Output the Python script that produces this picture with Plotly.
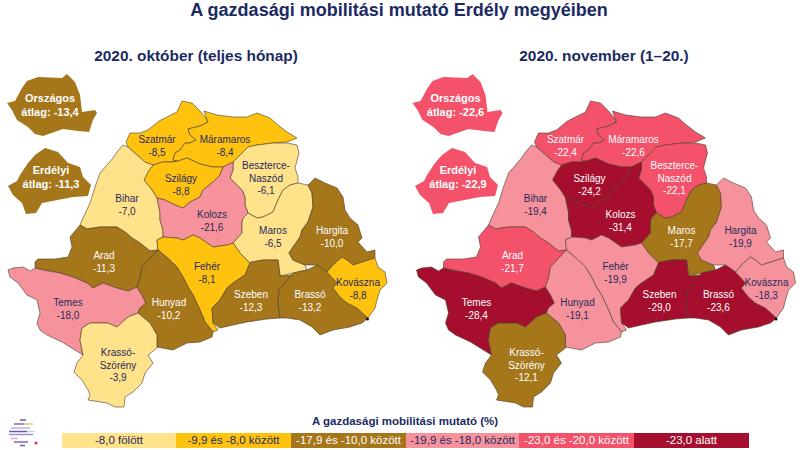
import plotly.graph_objects as go

# megyek es ertekek
counties = ["Szatmár", "Máramaros", "Beszterce-<br>Naszód", "Szilágy", "Bihar", "Kolozs", "Maros", "Hargita",
            "Arad", "Fehér", "Temes", "Hunyad", "Szeben", "Brassó", "Kovászna", "Krassó-<br>Szörény"]
oct_values = [-8.5, -8.4, -6.1, -8.8, -7.0, -21.6, -6.5, -10.0, -11.3, -8.1, -18.0, -10.2, -12.3, -13.2, -8.8, -3.9]
nov_values = [-22.4, -22.6, -22.1, -24.2, -19.4, -31.4, -17.7, -19.9, -21.7, -19.9, -28.4, -19.1, -29.0, -23.6, -18.3, -12.1]

avg_names = ["Országos", "Erdélyi"]
oct_avg = [-13.4, -11.3]
nov_avg = [-22.6, -22.9]

class_labels = ["-8,0 fölött", "-9,9 és -8,0 között", "-17,9 és -10,0 között",
                "-19,9 és -18,0 között", "-23,0 és -20,0 között", "-23,0 alatt"]
class_limits = [-8.0, -9.95, -17.95, -19.95, -23.0]
class_colors = ["#ffe28a", "#ffc20e", "#a6761b", "#f6929b", "#f4516a", "#a50e2d"]
class_text = ["#1f2a5c", "#1f2a5c", "#ffffff", "#1f2a5c", "#ffffff", "#ffffff"]

# kepen a Kolozs -21,6 a rozsaszin kategoriaban van
oct_override = {"Kolozs": 3}

# korvonalak (bal oldali terkep pixelei)
outlines = {
    "Szatmár": [(126,142),(130,133),(140,133),(148,130),(159,121),(170,115),(177,112),(182,101),(192,103),(200,111),(205,117),(208,122),(200,126),(188,129),(190,135),(196,140),(190,143),(185,143),(180,150),(175,153),(173,160),(178,161),(173,162),(163,162),(153,165),(145,162),(137,155),(128,147)],
    "Máramaros": [(204,111),(217,115),(233,117),(247,117),(257,113),(270,118),(278,125),(287,132),(297,138),(287,142),(273,143),(257,145),(248,147),(240,155),(233,162),(223,167),(213,167),(200,164),(187,158),(178,161),(173,160),(175,153),(180,150),(185,143),(190,143),(196,140),(190,135),(188,129),(200,126),(208,122)],
    "Beszterce-<br>Naszód": [(257,145),(273,143),(287,143),(297,145),(299,153),(297,160),(295,168),(298,177),(298,183),(290,185),(283,190),(278,200),(273,212),(263,217),(257,218),(248,213),(245,205),(245,197),(242,190),(237,185),(230,178),(233,170),(233,162),(240,155),(248,147)],
    "Szilágy": [(144,180),(148,172),(153,165),(163,162),(173,162),(178,161),(187,158),(200,164),(213,167),(223,167),(220,175),(213,182),(203,190),(200,197),(190,202),(183,208),(175,205),(165,200),(157,198),(152,190)],
    "Bihar": [(123,145),(117,152),(113,158),(107,165),(100,173),(95,187),(90,203),(83,218),(80,225),(87,229),(100,227),(117,227),(125,232),(132,238),(140,243),(150,251),(158,250),(157,240),(163,237),(163,230),(160,220),(160,212),(157,198),(152,190),(144,180),(148,172),(153,165),(145,162),(137,155),(128,147)],
    "Kolozs": [(157,198),(165,200),(175,205),(183,208),(190,202),(200,197),(203,190),(213,182),(220,175),(223,167),(233,162),(233,170),(230,178),(237,185),(242,190),(245,197),(245,205),(248,213),(243,218),(242,223),(242,233),(233,243),(227,245),(213,247),(200,238),(193,235),(183,240),(177,238),(163,237),(163,230),(160,220),(160,212)],
    "Maros": [(248,213),(257,218),(263,217),(273,212),(278,200),(283,190),(290,185),(298,183),(308,185),(312,193),(313,207),(308,222),(302,230),(300,237),(293,247),(289,253),(293,260),(305,265),(307,270),(293,273),(280,276),(278,260),(263,260),(252,262),(250,263),(240,253),(233,243),(242,233),(242,223),(243,218)],
    "Hargita": [(308,185),(315,178),(325,183),(337,188),(343,197),(345,210),(350,218),(358,225),(362,238),(358,242),(367,252),(375,250),(375,258),(363,262),(353,265),(347,260),(342,257),(335,263),(327,272),(317,265),(305,265),(293,260),(289,253),(293,247),(300,237),(302,230),(308,222),(313,207),(312,193)],
    "Arad": [(35,262),(38,259),(55,259),(68,257),(72,247),(70,237),(80,225),(87,229),(100,227),(117,227),(125,232),(132,238),(140,243),(150,251),(158,250),(147,262),(142,267),(140,278),(137,287),(128,291),(117,288),(103,283),(93,288),(87,283),(73,277),(60,273),(43,270),(35,268)],
    "Fehér": [(157,240),(163,237),(177,238),(183,240),(193,235),(200,238),(213,247),(227,245),(233,243),(240,253),(250,263),(245,275),(233,283),(227,288),(220,300),(212,308),(213,323),(218,330),(213,332),(205,322),(200,310),(193,295),(188,287),(183,277),(177,267),(170,260),(163,254),(158,250)],
    "Temes": [(8,270),(13,268),(23,267),(30,271),(35,268),(43,270),(60,273),(73,277),(87,283),(93,288),(103,283),(117,288),(128,291),(137,287),(142,295),(146,303),(140,308),(138,313),(128,317),(117,327),(108,323),(90,323),(82,328),(80,340),(83,355),(72,348),(62,342),(47,335),(40,330),(37,323),(40,313),(37,300),(27,295),(18,283),(10,277)],
    "Hunyad": [(158,250),(163,254),(170,260),(177,267),(183,277),(188,287),(193,295),(200,310),(205,322),(213,332),(212,337),(200,342),(187,343),(173,350),(163,348),(157,347),(157,335),(150,323),(138,313),(140,308),(146,303),(142,295),(137,287),(140,278),(142,267),(147,262)],
    "Szeben": [(252,262),(263,260),(278,260),(280,276),(293,275),(285,283),(279,290),(278,303),(280,318),(267,319),(247,322),(233,325),(220,328),(213,323),(212,308),(220,300),(227,288),(233,283),(245,275),(250,263)],
    "Brassó": [(293,273),(307,270),(317,265),(327,272),(337,283),(333,288),(340,297),(347,303),(357,308),(363,313),(368,318),(362,323),(350,327),(333,330),(320,335),(312,327),(300,320),(287,318),(280,318),(278,303),(279,290),(285,283)],
    "Kovászna": [(342,257),(347,260),(353,265),(363,262),(375,258),(378,267),(385,272),(387,283),(380,290),(377,300),(375,308),(368,318),(363,313),(357,308),(347,303),(340,297),(333,288),(337,283),(327,272),(335,263)],
    "Krassó-<br>Szörény": [(83,355),(80,340),(82,328),(90,323),(108,323),(117,327),(128,317),(138,313),(150,323),(157,335),(157,348),(148,355),(153,363),(145,373),(142,383),(133,392),(125,397),(124,407),(115,407),(107,403),(88,400),(90,395),(88,390),(82,380),(74,372),(77,363)],
}
avg_outlines = {
    "Országos": [(7,103),(15,101),(22,88),(27,81),(38,77),(53,78),(62,78),(67,74),(75,82),(80,95),(82,112),(95,110),(97,113),(93,120),(89,132),(78,131),(63,129),(43,136),(35,134),(28,127),(17,120),(12,110)],
    "Erdélyi": [(8,186),(17,181),(20,175),(28,163),(35,155),(45,148),(58,152),(68,163),(80,167),(83,177),(91,185),(88,196),(73,197),(57,200),(42,203),(36,213),(26,214),(22,203),(13,195)],
}

# felirat helyek: elso sor
label_pos = {
    "Szatmár": (157,139), "Máramaros": (225,139), "Beszterce-<br>Naszód": (266,165), "Szilágy": (181,178),
    "Bihar": (127,198), "Kolozs": (212,214), "Maros": (273,230), "Hargita": (332,230), "Arad": (104,255),
    "Fehér": (207,266), "Temes": (68,302), "Hunyad": (169,302), "Szeben": (251,294), "Brassó": (310,294),
    "Kovászna": (358,282), "Krassó-<br>Szörény": (118,352),
}
avg_pos = {"Országos": (50,98), "Erdélyi": (51,170)}

LINE = "#4a3c28"
NAVY = "#1b2a63"
FONT = "Liberation Sans"


def color_class(v):
    for i, lim in enumerate(class_limits):
        if v >= lim:
            return i
    return len(class_limits)


def hu(v):
    return f"{v:.1f}".replace(".", ",")


def polygon(fig, points, dx, color):
    xs = [p[0] + dx for p in points] + [points[0][0] + dx]
    ys = [p[1] for p in points] + [points[0][1]]
    fig.add_trace(go.Scatter(x=xs, y=ys, mode="lines", fill="toself", fillcolor=color,
                             line=dict(color=LINE, width=0.6), hoverinfo="skip", showlegend=False))


def text_lines(fig, x, y, lines, color, size=10, bold=False, step=12.5):
    # 1.5 px: a plotly "middle" kicsit feljebb rakja a szoveget
    for i, line in enumerate(lines):
        t = f"<b>{line}</b>" if bold else line
        fig.add_trace(go.Scatter(x=[x], y=[y + 1.5 + i * step], mode="text", text=[t],
                                 textposition="middle center", textfont=dict(family=FONT, size=size, color=color),
                                 hoverinfo="skip", showlegend=False))


def draw_map(fig, values, avgs, dx, avg_dx, override=None):
    override = override or {}
    for name, v in zip(counties, values):
        c = override.get(name, color_class(v))
        polygon(fig, outlines[name], dx, class_colors[c])
    for name, v in zip(counties, values):
        c = override.get(name, color_class(v))
        x, y = label_pos[name]
        text_lines(fig, x + dx, y, name.split("<br>") + [hu(v)], class_text[c])
    fig.add_trace(go.Scatter(x=[367.5 + dx], y=[319], mode="markers", marker=dict(color="#111111", size=3),
                             hoverinfo="skip", showlegend=False))
    for (name, v), adx in zip(zip(avg_names, avgs), avg_dx):
        polygon_color = class_colors[color_class(v)]
        fig.add_trace(go.Scatter(x=[p[0] + adx for p in avg_outlines[name]], y=[p[1] for p in avg_outlines[name]],
                                 mode="lines", fill="toself", fillcolor=polygon_color, line=dict(width=0),
                                 hoverinfo="skip", showlegend=False))
        x, y = avg_pos[name]
        text_lines(fig, x + adx, y, [name, f"átlag: {hu(v)}"], "#ffffff", size=11, bold=True, step=14)


fig = go.Figure()
draw_map(fig, oct_values, oct_avg, 0, [0, 0], oct_override)
draw_map(fig, nov_values, nov_avg, 408.5, [405.5, 407])

text_lines(fig, 399, 10, ["A gazdasági mobilitási mutató Erdély megyéiben"], NAVY, size=18, bold=True)
text_lines(fig, 196, 56, ["2020. október (teljes hónap)"], NAVY, size=15.4, bold=True)
text_lines(fig, 604, 56, ["2020. november (1–20.)"], NAVY, size=15.4, bold=True)
text_lines(fig, 405, 421, ["A gazdasági mobilitási mutató (%)"], NAVY, size=11.5, bold=True)

# jelmagyarazat
edges = [62, 176, 291, 406, 519, 634, 749]
for i, label in enumerate(class_labels):
    fig.add_shape(type="rect", x0=edges[i], x1=edges[i + 1], y0=433, y1=448, fillcolor=class_colors[i], line_width=0, layer="below")
    text_lines(fig, (edges[i] + edges[i + 1]) / 2, 440, [label], class_text[i], size=11.5)

# logo
stripes = [(20, 26, 420, "#6a5aa8"), (14, 24, 424, "#7b6bb5"), (24, 33, 424, "#e9c46a"), (11, 30, 428, "#b9b3dc"),
           (9, 27, 431.5, "#6a5aa8"), (27, 35, 431.5, "#bcd8ea"), (9, 33, 434.5, "#9a8fd0"), (11, 18, 438.5, "#f4a6c0"),
           (14, 28, 442, "#7b6bb5"), (20, 25, 445.5, "#6a5aa8")]
for x0, x1, y, col in stripes:
    fig.add_shape(type="line", x0=x0, x1=x1, y0=y, y1=y, line=dict(color=col, width=1.5))
fig.add_shape(type="circle", x0=34.5, x1=37.5, y0=441.5, y1=444.5, fillcolor="#e03040", line_width=0)

fig.update_layout(width=800, height=450, margin=dict(l=0, r=0, t=0, b=0), paper_bgcolor="white", plot_bgcolor="white",
                  showlegend=False, autosize=False)
fig.update_xaxes(range=[0, 800], visible=False, fixedrange=True)
fig.update_yaxes(range=[450, 0], visible=False, fixedrange=True)
# oldal margo nelkul, hogy a kep pont 800x450 legyen
fig.write_html("out.html", config=dict(displayModeBar=False), post_script="document.body.style.margin='0';")
